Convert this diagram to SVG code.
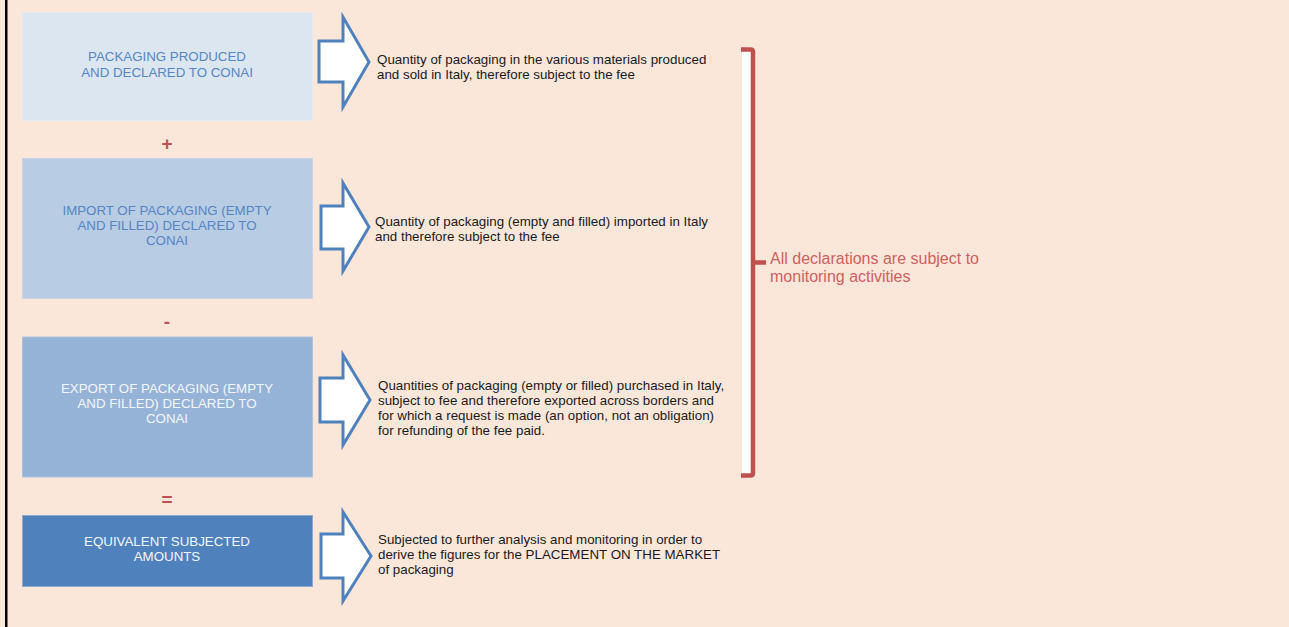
<svg xmlns="http://www.w3.org/2000/svg" width="1289" height="627" viewBox="0 0 1289 627">
<style>
.bt{font-family:"Liberation Sans",Arial,sans-serif;font-size:13.3px;text-anchor:middle}
.dt{font-family:"Liberation Sans",Arial,sans-serif;font-size:13.35px;fill:#1a1a1a}
.op{font-family:"Liberation Sans",Arial,sans-serif;font-size:19px;font-weight:bold;fill:#C0504D;text-anchor:middle}
.arr{fill:#FFFFFF;stroke:#4F81BD;stroke-width:3;stroke-linejoin:miter}
.rt{font-family:"Liberation Sans",Arial,sans-serif;font-size:16px;fill:#D0605E}
</style>
<rect x="0" y="0" width="1289" height="627" fill="#FBE7DA"/>
<rect x="5" y="0" width="2.5" height="627" fill="#000000"/>

<g id="node-produced">
<rect x="22.5" y="12.5" width="290" height="108" fill="#DCE6F1" stroke="#E3EAF3" stroke-width="1"/>
<text class="bt" fill="#5585C2"><tspan x="167" y="61.3">PACKAGING PRODUCED</tspan><tspan x="167" y="77.3">AND DECLARED TO CONAI</tspan></text>
</g>
<g id="node-import">
<rect x="22.5" y="158.5" width="290" height="140" fill="#B8CCE4" stroke="#C6D5E9" stroke-width="1"/>
<text class="bt" fill="#5585C2"><tspan x="167" y="215.3">IMPORT OF PACKAGING (EMPTY</tspan><tspan x="167" y="230.3">AND FILLED) DECLARED TO</tspan><tspan x="167" y="245.3">CONAI</tspan></text>
</g>
<g id="node-export">
<rect x="22.5" y="337" width="290" height="140" fill="#95B3D7" stroke="#ABC3E0" stroke-width="1"/>
<text class="bt" fill="#F4F6FA"><tspan x="167" y="393.3">EXPORT OF PACKAGING (EMPTY</tspan><tspan x="167" y="408.3">AND FILLED) DECLARED TO</tspan><tspan x="167" y="423.3">CONAI</tspan></text>
</g>
<g id="node-equivalent">
<rect x="22.5" y="515.5" width="290" height="71" fill="#4F81BD" stroke="#8EAAD3" stroke-width="1"/>
<text class="bt" fill="#F4F6FA"><tspan x="167" y="546.3">EQUIVALENT SUBJECTED</tspan><tspan x="167" y="561.3">AMOUNTS</tspan></text>
</g>

<g id="operators">
<text class="op" x="167" y="150">+</text>
<text class="op" x="167" y="328">-</text>
<text class="op" x="167" y="506">=</text>
</g>

<g id="connectors">
<polygon class="arr" points="319,41 343,41 343,17 369,62 343,107 343,82 319,82"/>
<polygon class="arr" points="321,206 343,206 343,183 369,227 343,271 343,249 321,249"/>
<polygon class="arr" points="320,378 343,378 343,355 370,400 343,445 343,422 320,422"/>
<polygon class="arr" points="321,534 343,534 343,512 371,556 343,601 343,578 321,578"/>
</g>

<g id="desc-produced">
<text class="dt"><tspan x="377" y="64">Quantity of packaging in the various materials produced</tspan><tspan x="377" y="79">and sold in Italy, therefore subject to the fee</tspan></text>
</g>
<g id="desc-import">
<text class="dt"><tspan x="375" y="226">Quantity of packaging (empty and filled) imported in Italy</tspan><tspan x="375" y="241">and therefore subject to the fee</tspan></text>
</g>
<g id="desc-export">
<text class="dt"><tspan x="378" y="390">Quantities of packaging (empty or filled) purchased in Italy,</tspan><tspan x="378" y="405">subject to fee and therefore exported across borders and</tspan><tspan x="378" y="420">for which a request is made (an option, not an obligation)</tspan><tspan x="378" y="435">for refunding of the fee paid.</tspan></text>
</g>
<g id="desc-equivalent">
<text class="dt"><tspan x="378" y="544">Subjected to further analysis and monitoring in order to</tspan><tspan x="378" y="559">derive the figures for the PLACEMENT ON THE MARKET</tspan><tspan x="378" y="574">of packaging</tspan></text>
</g>

<g id="brace">
<rect x="742" y="50" width="11" height="426" fill="#FFFFFF"/>
<path d="M741,49.5 H750.5 Q753,49.5 753,52 V473 Q753,475.5 750.5,475.5 H741" fill="none" stroke="#C0504D" stroke-width="4.5"/>
<path d="M753,262.5 H766" fill="none" stroke="#C0504D" stroke-width="4.5"/>
<text class="rt"><tspan x="770" y="264">All declarations are subject to</tspan><tspan x="770" y="282">monitoring activities</tspan></text>
</g>
</svg>
